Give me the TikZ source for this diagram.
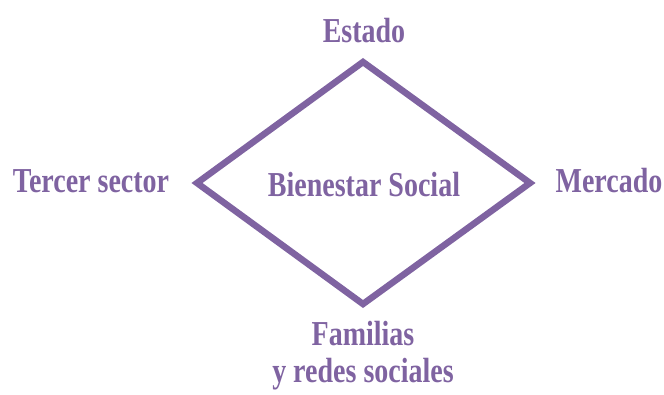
\documentclass[tikz,border=0pt]{standalone}
\usepackage{fontspec}
\newfontfamily\labfont[FakeStretch=0.8]{Liberation Serif}
\definecolor{vio}{HTML}{7F63A1}
\begin{document}
\begin{tikzpicture}[x=1pt,y=-1pt,
  lab/.style={text=vio,font=\labfont\bfseries\fontsize{35}{40}\selectfont,anchor=base,inner sep=0pt},
  edge/.style={draw=vio,line width=6.5pt,line join=miter}]
\useasboundingbox (0,0) rectangle (664,394);
\coordinate (t) at (363,62);
\coordinate (r) at (530,183);
\coordinate (b) at (363,304);
\coordinate (l) at (197,183);
\draw[edge] (t) -- (r) -- (b) -- (l) -- cycle;
\node[lab] (estado) at (364,42) {Estado};
\node[lab] (bien) at (364,196) {Bienestar Social};
\node[lab] (tercer) at (91,192) {Tercer sector};
\node[lab] (merc) at (609,192) {Mercado};
\node[lab] (fam) at (363,345) {Familias};
\node[lab] (redes) at (363,382) {y redes sociales};
\end{tikzpicture}
\end{document}
